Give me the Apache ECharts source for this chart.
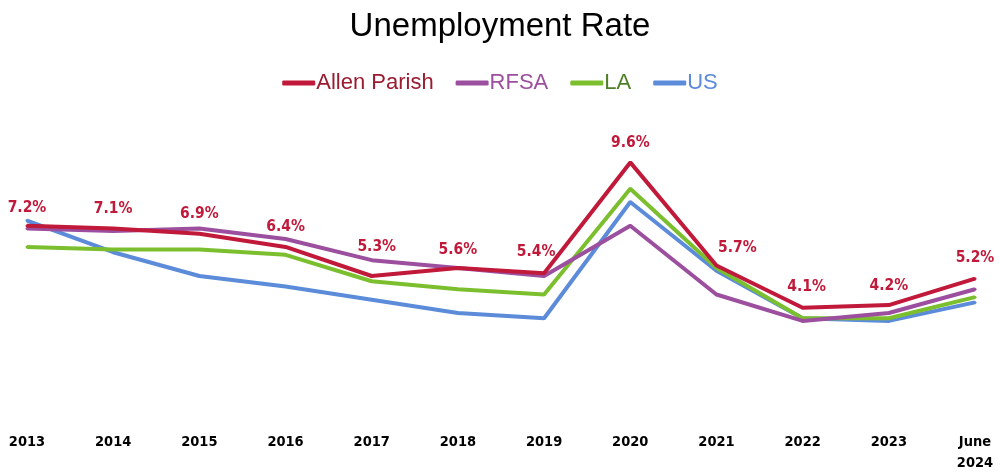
<!DOCTYPE html>
<html><head><meta charset="utf-8">
<script src="https://cdn.jsdelivr.net/npm/echarts@6/dist/echarts.min.js"></script>
<style>html,body{margin:0;padding:0;background:#fff}#c{width:1000px;height:475px}</style>
</head><body><div id="c"></div>
<script>
const categories = ['2013','2014','2015','2016','2017','2018','2019','2020','2021','2022','2023','June\n2024'];
const allenParish = [7.2, 7.1, 6.9, 6.4, 5.3, 5.6, 5.4, 9.6, 5.7, 4.1, 4.2, 5.2];
const rfsa = [7.1, 7.0, 7.1, 6.7, 5.9, 5.6, 5.3, 7.2, 4.6, 3.6, 3.9, 4.8];
const la = [6.4, 6.3, 6.3, 6.1, 5.1, 4.8, 4.6, 8.6, 5.6, 3.7, 3.7, 4.5];
const us = [7.4, 6.2, 5.3, 4.9, 4.4, 3.9, 3.7, 8.1, 5.5, 3.7, 3.6, 4.3];
// label nudges (style only) for Allen Parish data labels
const labelNudge = [[0,4],[0,2],[0,2],[0,2],[5,-8],[0,3],[-8,0],[0,2],[21,4],[4,1],[0,2],[0,1]];

const narrow = '"Liberation Sans Narrow", "DejaVu Sans Condensed", "Liberation Sans", Arial, sans-serif';
const chart = echarts.init(document.getElementById('c'));
const mk = (name, data, color, labels, z) => ({
  name, type: 'line', z,
  data: labels ? data.map((v, i) => ({ value: v, label: { offset: labelNudge[i] } })) : data,
  symbol: 'circle', symbolSize: 3, showSymbol: true,
  lineStyle: { color, width: 4 },
  itemStyle: { color, borderWidth: 0 },
  label: labels ? {
    show: true, position: 'top', distance: 12,
    formatter: p => p.value.toFixed(1) + '%',
    color: '#c0193a', fontWeight: 'bold', fontSize: 15.5,
    fontFamily: narrow
  } : { show: false },
  emphasis: { disabled: true }
});
chart.setOption({
  animation: false,
  title: {
    text: 'Unemployment Rate', left: 'center', top: 5,
    textStyle: { fontSize: 33, fontWeight: 'normal', color: '#000', fontFamily: '"Liberation Sans", Arial, sans-serif' }
  },
  legend: {
    top: 67, left: 'center', itemWidth: 33, itemHeight: 5, itemGap: 22,
    icon: 'roundRect',
    textStyle: { fontSize: 22, fontFamily: '"Liberation Sans", Arial, sans-serif', padding: [0,0,0,-4] },
    data: [
      { name: 'Allen Parish', textStyle: { color: '#9b1b30' } },
      { name: 'RFSA', textStyle: { color: '#9b4f9e' } },
      { name: 'LA', textStyle: { color: '#4f7f27' } },
      { name: 'US', textStyle: { color: '#5b8bd9' } }
    ]
  },
  grid: { left: 27, right: 25, top: 99, bottom: 59, containLabel: false },
  xAxis: {
    type: 'category', data: categories, boundaryGap: false,
    axisLine: { show: false }, axisTick: { show: false },
    axisLabel: {
      margin: 16, color: '#000', fontWeight: 'bold', fontSize: 14.5, lineHeight: 21,
      fontFamily: narrow,
      interval: 0
    }
  },
  yAxis: {
    type: 'value', min: 0, max: 12, interval: 2,
    axisLine: { show: false }, axisTick: { show: false },
    axisLabel: { show: false }, splitLine: { show: false }
  },
  series: [
    mk('US', us, '#5b8bd9', false, 1),
    mk('LA', la, '#7cbf2e', false, 2),
    mk('RFSA', rfsa, '#9b4f9e', false, 3),
    mk('Allen Parish', allenParish, '#c0193a', true, 4)
  ]
});
</script>
</body></html>
